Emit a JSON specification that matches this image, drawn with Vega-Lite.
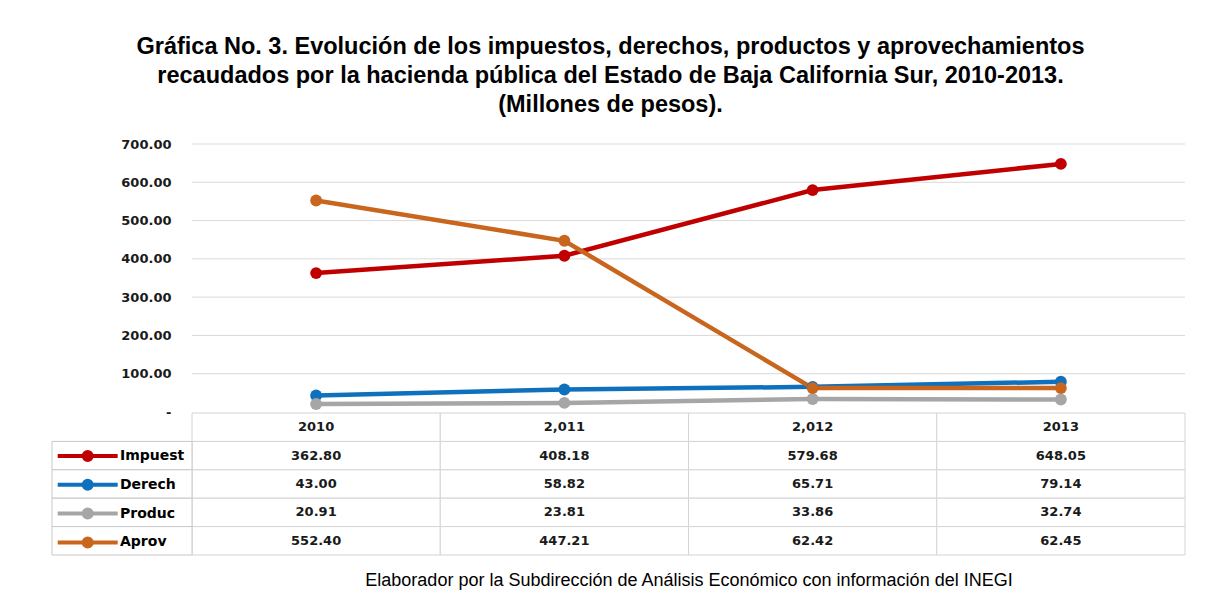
{
  "$schema": "https://vega.github.io/schema/vega-lite/v6.json",
  "width": 1133,
  "height": 411,
  "autosize": {"type": "none"},
  "padding": {"left": 52, "top": 144, "right": 23, "bottom": 50},
  "background": "white",
  "config": {"view": {"stroke": null}, "font": "Liberation Sans"},
  "title": {
    "text": ["Gráfica No. 3. Evolución de los impuestos, derechos, productos y aprovechamientos", "recaudados por la hacienda pública del Estado de Baja California Sur, 2010-2013.", "(Millones de pesos)."],
    "fontSize": 23.5, "fontWeight": "bold", "lineHeight": 29, "anchor": "middle", "frame": "group", "offset": 22, "dx": -8, "color": "#000000", "font": "Liberation Sans"
  },
  "datasets": {
    "main": [
      {"serie": "Impuest", "year": "2010", "value": 362.80},
      {"serie": "Impuest", "year": "2011", "value": 408.18},
      {"serie": "Impuest", "year": "2012", "value": 579.68},
      {"serie": "Impuest", "year": "2013", "value": 648.05},
      {"serie": "Derech", "year": "2010", "value": 43.00},
      {"serie": "Derech", "year": "2011", "value": 58.82},
      {"serie": "Derech", "year": "2012", "value": 65.71},
      {"serie": "Derech", "year": "2013", "value": 79.14},
      {"serie": "Produc", "year": "2010", "value": 20.91},
      {"serie": "Produc", "year": "2011", "value": 23.81},
      {"serie": "Produc", "year": "2012", "value": 33.86},
      {"serie": "Produc", "year": "2013", "value": 32.74},
      {"serie": "Aprov", "year": "2010", "value": 552.40},
      {"serie": "Aprov", "year": "2011", "value": 447.21},
      {"serie": "Aprov", "year": "2012", "value": 62.42},
      {"serie": "Aprov", "year": "2013", "value": 62.45}
    ],
    "years": [
      {"year": "2010", "label": "2010"},
      {"year": "2011", "label": "2,011"},
      {"year": "2012", "label": "2,012"},
      {"year": "2013", "label": "2013"}
    ],
    "series": [
      {"serie": "Impuest"}, {"serie": "Derech"}, {"serie": "Produc"}, {"serie": "Aprov"}
    ],
    "grid": [
      {"v": 100}, {"v": 200}, {"v": 300}, {"v": 400}, {"v": 500}, {"v": 600}, {"v": 700}
    ]
  },
  "layer": [
    {
      "data": {"name": "grid"},
      "mark": {"type": "rule", "color": "#d9d9d9", "strokeWidth": 1},
      "encoding": {
        "y": {"field": "v", "type": "quantitative", "scale": {"domain": [0, 700], "range": [268, 0], "nice": false}, "axis": null},
        "x": {"datum": 0, "type": "quantitative", "scale": {"domain": [0, 1], "range": [140, 1133]}, "axis": null},
        "x2": {"datum": 1}
      }
    },
    {
      "layer": [
        {
          "data": {"name": "main"},
          "mark": {"type": "rect", "fill": "white", "stroke": "#d4d4d4", "strokeWidth": 1},
          "encoding": {
            "x": {"field": "year", "type": "nominal"},
            "y": {"field": "serie", "type": "nominal"}
          }
        },
        {
          "data": {"name": "years"},
          "mark": {"type": "rect", "fill": "white", "stroke": "#d4d4d4", "strokeWidth": 1},
          "encoding": {
            "x": {"field": "year", "type": "nominal"},
            "y": {"datum": "header", "type": "nominal"}
          }
        },
        {
          "data": {"name": "main"},
          "mark": {"type": "text", "font": "DejaVu Sans", "fontSize": 13, "fontWeight": "bold", "color": "#1a1a1a"},
          "encoding": {
            "x": {"field": "year", "type": "nominal", "bandPosition": 0.5},
            "y": {"field": "serie", "type": "nominal", "bandPosition": 0.5},
            "text": {"field": "value", "type": "quantitative", "format": ".2f"}
          }
        },
        {
          "data": {"name": "years"},
          "mark": {"type": "text", "font": "DejaVu Sans", "fontSize": 13, "fontWeight": "bold", "color": "#1a1a1a"},
          "encoding": {
            "x": {"field": "year", "type": "nominal", "bandPosition": 0.5},
            "y": {"datum": "header", "type": "nominal", "bandPosition": 0.5},
            "text": {"field": "label", "type": "nominal"}
          }
        }
      ],
      "encoding": {
        "x": {"scale": {"type": "band", "domain": ["2010", "2011", "2012", "2013"], "range": [140, 1133], "paddingInner": 0, "paddingOuter": 0}, "axis": null},
        "y": {"scale": {"type": "band", "domain": ["header", "Impuest", "Derech", "Produc", "Aprov"], "range": [269, 411], "paddingInner": 0, "paddingOuter": 0}, "axis": null}
      }
    },
    {
      "data": {"name": "series"},
      "mark": {"type": "rect", "fill": "white", "stroke": "#c8c8c8", "strokeWidth": 1},
      "encoding": {
        "x": {"datum": 0, "type": "quantitative", "scale": {"domain": [0, 1], "range": [0, 140]}, "axis": null},
        "x2": {"datum": 1},
        "y": {"field": "serie", "type": "nominal", "scale": {"type": "band", "domain": ["header", "Impuest", "Derech", "Produc", "Aprov"], "range": [269, 411], "paddingInner": 0, "paddingOuter": 0}, "axis": null}
      }
    },
    {
      "data": {"name": "main"},
      "encoding": {
        "x": {
          "field": "year", "type": "nominal", "bandPosition": 0.5,
          "scale": {"type": "band", "domain": ["2010", "2011", "2012", "2013"], "range": [140, 1133], "paddingInner": 0, "paddingOuter": 0},
          "axis": {"orient": "bottom", "labels": false, "ticks": false, "domain": false, "grid": false, "title": "Elaborador por la Subdirección de Análisis Económico con información del INEGI", "titleFont": "Liberation Sans", "titleFontSize": 18, "titleFontWeight": "normal", "titleColor": "#000000", "titlePadding": 16}
        },
        "y": {
          "field": "value", "type": "quantitative",
          "scale": {"domain": [0, 700], "range": [268, 0], "nice": false, "zero": true},
          "axis": {"orient": "left", "offset": -140, "values": [0, 100, 200, 300, 400, 500, 600, 700], "labelExpr": "datum.value == 0 ? '-' : format(datum.value, ',.2f')", "domain": false, "ticks": false, "grid": false, "labelPadding": 21, "labelFont": "DejaVu Sans", "labelFontSize": 13, "labelFontWeight": "bold", "labelColor": "#1a1a1a", "title": null}
        },
        "color": {
          "field": "serie", "type": "nominal",
          "scale": {"domain": ["Impuest", "Derech", "Produc", "Aprov"], "range": ["#C00000", "#0F71BE", "#A6A6A6", "#C8661E"]},
          "legend": {
            "orient": "none", "legendX": 23.7, "legendY": 300, "title": null,
            "symbolType": "M-3,0H3M0.4,0A0.4,0.4,0,1,1,-0.4,0A0.4,0.4,0,1,1,0.4,0Z",
            "symbolSize": 400, "symbolStrokeWidth": 4,
            "labelFont": "DejaVu Sans", "labelFontSize": 14, "labelFontWeight": "bold", "labelColor": "#000000",
            "labelOffset": 20.3, "rowPadding": 4.8,
            "encode": {"symbols": {"update": {"fill": {"scale": "color", "field": "value"}, "stroke": {"scale": "color", "field": "value"}, "strokeWidth": {"value": 4}, "opacity": {"value": 1}}}}
          }
        }
      },
      "layer": [
        {"mark": {"type": "line", "strokeWidth": 4.5}},
        {"mark": {"type": "point", "filled": true, "size": 140, "opacity": 1}}
      ]
    }
  ],
  "resolve": {"scale": {"x": "independent", "y": "independent"}}
}
